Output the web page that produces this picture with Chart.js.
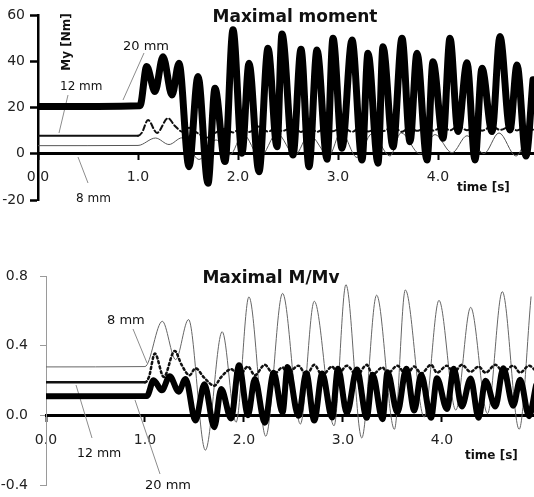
<!DOCTYPE html>
<html>
<head>
<meta charset="utf-8">
<script src="https://cdn.jsdelivr.net/npm/chart.js@4.4.1/dist/chart.umd.min.js"></script>
<style>
    body { margin: 0; background: #fff; overflow: hidden; }
    #wrap { position: relative; width: 534px; height: 497px; overflow: hidden; }
    canvas { position: absolute; left: 0; }
</style>
</head>
<body>
<div id="wrap">
    <canvas id="momentChart" width="534" height="245" style="top:0"></canvas>
    <canvas id="ratioChart" width="534" height="270" style="top:245px"></canvas>
</div>
<script>
// --- Data (time in s) ---
const seriesNames = ['20 mm', '12 mm', '8 mm'];

const time20 = [0, 1.02, 1.087, 1.17, 1.25, 1.34, 1.41, 1.51, 1.60, 1.70, 1.77, 1.87, 1.95, 2.04, 2.11, 2.21, 2.30,
    2.39, 2.44, 2.55, 2.63, 2.71, 2.79, 2.89, 2.95, 3.04, 3.14, 3.24, 3.30, 3.40, 3.45, 3.55, 3.64, 3.72, 3.79, 3.89, 3.95,
    4.05, 4.12, 4.20, 4.29, 4.37, 4.44, 4.54, 4.62, 4.72, 4.79, 4.88, 4.95];
const moment20 = [20.4, 20.8, 37.7, 26.9, 42, 25.4, 39.1, -5.6, 33.4, -12.8, 28.3, -3.4, 53.6, 0.2, 39.1, -7.8, 45.6,
    3, 51.8, -0.5, 45.2, -5.6, 44.9, -2.4, 50, 2.4, 49.2, -2.7, 43.5, -4.1, 46.3, 3, 50, 5.2, 43.5, -2.7, 39.8,
    6.7, 50, 9.6, 39.4, -2.7, 37, 9.6, 50.7, 10.3, 38.4, -1, 32];
const ratio20 = [0.109, 0.111, 0.202, 0.144, 0.225, 0.136, 0.209, -0.03, 0.179, -0.068, 0.151, -0.018, 0.287, 0.001, 0.209, -0.042, 0.244,
    0.016, 0.277, -0.003, 0.242, -0.03, 0.24, -0.013, 0.268, 0.013, 0.263, -0.014, 0.233, -0.022, 0.248, 0.016, 0.268, 0.028, 0.233, -0.014, 0.213,
    0.036, 0.268, 0.051, 0.211, -0.014, 0.198, 0.051, 0.271, 0.055, 0.205, -0.005, 0.171];

const time12 = [0, 1.0, 1.04, 1.1, 1.19, 1.3, 1.37, 1.45, 1.51, 1.60, 1.70, 1.77, 1.87, 1.95, 2.04, 2.11, 2.21, 2.30,
    2.39, 2.44, 2.55, 2.63, 2.71, 2.79, 2.89, 2.95, 3.04, 3.14, 3.24, 3.30, 3.40, 3.45, 3.55, 3.64, 3.72, 3.79, 3.89, 3.95,
    4.05, 4.12, 4.20, 4.29, 4.37, 4.44, 4.54, 4.62, 4.72, 4.79, 4.88, 4.95];
const moment12 = [7.8, 7.8, 9.2, 14.6, 9.0, 15.4, 12.0, 9.4, 11.2, 8.8, 7.0, 9.0, 10.8, 9.2, 11.5, 9.4, 11.8, 9.6,
    11.2, 9.8, 11.6, 9.4, 11.9, 9.5, 11.4, 9.7, 11.6, 9.5, 11.8, 9.6, 11.3, 9.8, 11.7, 9.5, 11.5, 9.9, 11.8, 10.0,
    11.6, 10.1, 12.0, 10.2, 11.4, 10.0, 11.9, 10.3, 11.7, 10.1, 11.6, 10.4];
const ratio12 = [0.19, 0.19, 0.22, 0.355, 0.22, 0.37, 0.29, 0.23, 0.27, 0.215, 0.17, 0.22, 0.265, 0.225, 0.28, 0.23, 0.29, 0.235,
    0.275, 0.24, 0.285, 0.23, 0.29, 0.23, 0.28, 0.235, 0.285, 0.23, 0.29, 0.235, 0.275, 0.24, 0.285, 0.23, 0.28, 0.24, 0.29, 0.245,
    0.285, 0.245, 0.29, 0.25, 0.28, 0.245, 0.29, 0.25, 0.285, 0.245, 0.285, 0.255];

const time8 = [0, 1.0, 1.175, 1.31, 1.44, 1.61, 1.78, 1.92, 2.05, 2.22, 2.39, 2.57, 2.71, 2.91, 3.03, 3.19, 3.34,
    3.52, 3.63, 3.82, 3.97, 4.14, 4.29, 4.46, 4.61, 4.78, 4.90];
const moment8 = [3.5, 3.6, 6.8, 4.0, 6.9, -2.5, 6.0, -0.5, 8.6, -1.5, 8.8, -0.6, 8.3, -0.8, 9.5, -1.6, 8.7,
    -1.0, 9.1, -0.1, 8.3, 0.4, 7.8, 0.1, 9.0, -1.0, 8.6];
const ratio8 = [0.278, 0.28, 0.54, 0.32, 0.55, -0.2, 0.48, -0.04, 0.68, -0.12, 0.70, -0.05, 0.655, -0.06, 0.75, -0.13, 0.69,
    -0.08, 0.72, -0.01, 0.66, 0.03, 0.62, 0.01, 0.71, -0.08, 0.68];

const timeTicks = [0, 1, 2, 3, 4];
const momentTicks = [-20, 0, 20, 40, 60];
const ratioTicks = [-0.4, 0.0, 0.4, 0.8];

document.addEventListener('DOMContentLoaded', function () {

    Chart.defaults.font.family = "'DejaVu Sans', sans-serif";
    Chart.defaults.color = '#222';

    const pts = (xs, ys) => xs.map((x, i) => ({ x: x, y: ys[i] }));
    const tickFont = { size: 14 };

    // free text + leader lines (pixel positions of the labels only)
    function notesPlugin(notes) {
        return {
            id: 'notes',
            beforeDatasetsDraw(chart) {
                const ctx = chart.ctx;
                ctx.save();
                ctx.strokeStyle = '#8c8c8c';
                ctx.lineWidth = 1;
                notes.lines.forEach(l => {
                    ctx.beginPath();
                    ctx.moveTo(l[0], l[1]);
                    ctx.lineTo(l[2], l[3]);
                    ctx.stroke();
                });
                ctx.restore();
            },
            afterDraw(chart) {
                const ctx = chart.ctx;
                ctx.save();
                ctx.fillStyle = '#111';
                ctx.textBaseline = 'alphabetic';
                notes.texts.forEach(t => {
                    ctx.font = t.font + " 'DejaVu Sans', sans-serif";
                    ctx.textAlign = t.align || 'left';
                    if (t.rotate) {
                        ctx.save();
                        ctx.translate(t.x, t.y);
                        ctx.rotate(-Math.PI / 2);
                        ctx.textAlign = 'center';
                        ctx.fillText(t.text, 0, 0);
                        ctx.restore();
                    } else {
                        ctx.fillText(t.text, t.x, t.y);
                    }
                });
                ctx.restore();
            }
        };
    }

    function timeAxis(max, labelPad) {
        return {
            type: 'linear',
            position: { y: 0 },
            min: 0,
            max: max,
            border: { color: '#000', width: 3 },
            grid: { drawOnChartArea: false, tickLength: 5, tickColor: '#000', tickWidth: 2 },
            ticks: { font: tickFont, color: '#222', padding: labelPad, maxRotation: 0, autoSkip: false,
                callback: v => v.toFixed(1) },
            afterBuildTicks: s => { s.ticks = timeTicks.map(v => ({ value: v })); }
        };
    }

    function valueAxis(list, width, opts) {
        return {
            min: list[0],
            max: list[list.length - 1],
            border: { color: opts.color, width: opts.width },
            grid: { drawOnChartArea: false, tickLength: opts.tick, tickColor: opts.color, tickWidth: opts.width },
            ticks: { font: tickFont, color: '#222', padding: opts.pad,
                callback: v => opts.digits ? v.toFixed(opts.digits) : v },
            afterBuildTicks: s => { s.ticks = list.map(v => ({ value: v })); },
            afterFit: s => { s.width = width; }
        };
    }

    const baseLine = { pointRadius: 0, cubicInterpolationMode: 'monotone', borderJoinStyle: 'round', borderCapStyle: 'round', fill: false };

    // --- 1. Maximal moment ---
    new Chart(document.getElementById('momentChart'), {
        type: 'line',
        data: {
            datasets: [
                Object.assign({ label: seriesNames[0], data: pts(time20, moment20), borderColor: '#000', borderWidth: 7 }, baseLine),
                Object.assign({ label: seriesNames[1], data: pts(time12, moment12), borderColor: '#111', borderWidth: 2,
                    segment: { borderDash: ctx => ctx.p0.parsed.x >= 1 ? [5, 3] : undefined } }, baseLine),
                Object.assign({ label: seriesNames[2], data: pts(time8, moment8), borderColor: '#555', borderWidth: 1 }, baseLine)
            ]
        },
        options: {
            responsive: false,
            animation: false,
            devicePixelRatio: 1,
            layout: { padding: { top: 15, bottom: 45, left: 0, right: 0 } },
            plugins: { legend: { display: false }, tooltip: { enabled: false } },
            scales: {
                x: timeAxis(4.96, 10),
                y: valueAxis(momentTicks, 38, { color: '#000', width: 2.5, tick: 8, pad: 5, digits: 0 })
            }
        },
        plugins: [notesPlugin({
            texts: [
                { text: 'Maximal moment', font: 'bold 17px', x: 295, y: 22, align: 'center' },
                { text: 'time [s]', font: 'bold 12px', x: 457, y: 191 },
                { text: 'My [Nm]', font: 'bold 12px', x: 70, y: 42, rotate: true },
                { text: seriesNames[0], font: '13px', x: 123, y: 50 },
                { text: seriesNames[1], font: '12px', x: 60, y: 90 },
                { text: seriesNames[2], font: '12px', x: 76, y: 202 }
            ],
            lines: [[144, 53, 123, 100], [68, 95, 59, 133], [88, 183, 78, 157]]
        })]
    });

    // --- 2. Maximal M/Mv ---
    new Chart(document.getElementById('ratioChart'), {
        type: 'line',
        data: {
            datasets: [
                Object.assign({ label: seriesNames[0], data: pts(time20, ratio20), borderColor: '#000', borderWidth: 6 }, baseLine),
                Object.assign({ label: seriesNames[1], data: pts(time12, ratio12), borderColor: '#111', borderWidth: 2.5,
                    segment: { borderDash: ctx => ctx.p0.parsed.x >= 1 ? [2, 3] : undefined } }, baseLine),
                Object.assign({ label: seriesNames[2], data: pts(time8, ratio8), borderColor: '#666', borderWidth: 1 }, baseLine)
            ]
        },
        options: {
            responsive: false,
            animation: false,
            devicePixelRatio: 1,
            layout: { padding: { top: 31, bottom: 30, left: 0, right: 0 } },
            plugins: { legend: { display: false }, tooltip: { enabled: false } },
            scales: {
                x: timeAxis(4.93, 12),
                y: valueAxis(ratioTicks, 46, { color: '#9a9a9a', width: 1, tick: 6, pad: 12, digits: 1 })
            }
        },
        plugins: [notesPlugin({
            texts: [
                { text: 'Maximal M/Mv', font: 'bold 17px', x: 271, y: 38, align: 'center' },
                { text: 'time [s]', font: 'bold 12px', x: 465, y: 214 },
                { text: seriesNames[2], font: '13px', x: 107, y: 79 },
                { text: seriesNames[1], font: '12.5px', x: 77, y: 212 },
                { text: seriesNames[0], font: '13px', x: 145, y: 244 }
            ],
            lines: [[133, 84, 147, 118], [92, 193, 76, 140], [160, 229, 135, 155]]
        })]
    });

});
</script>
</body>
</html>
